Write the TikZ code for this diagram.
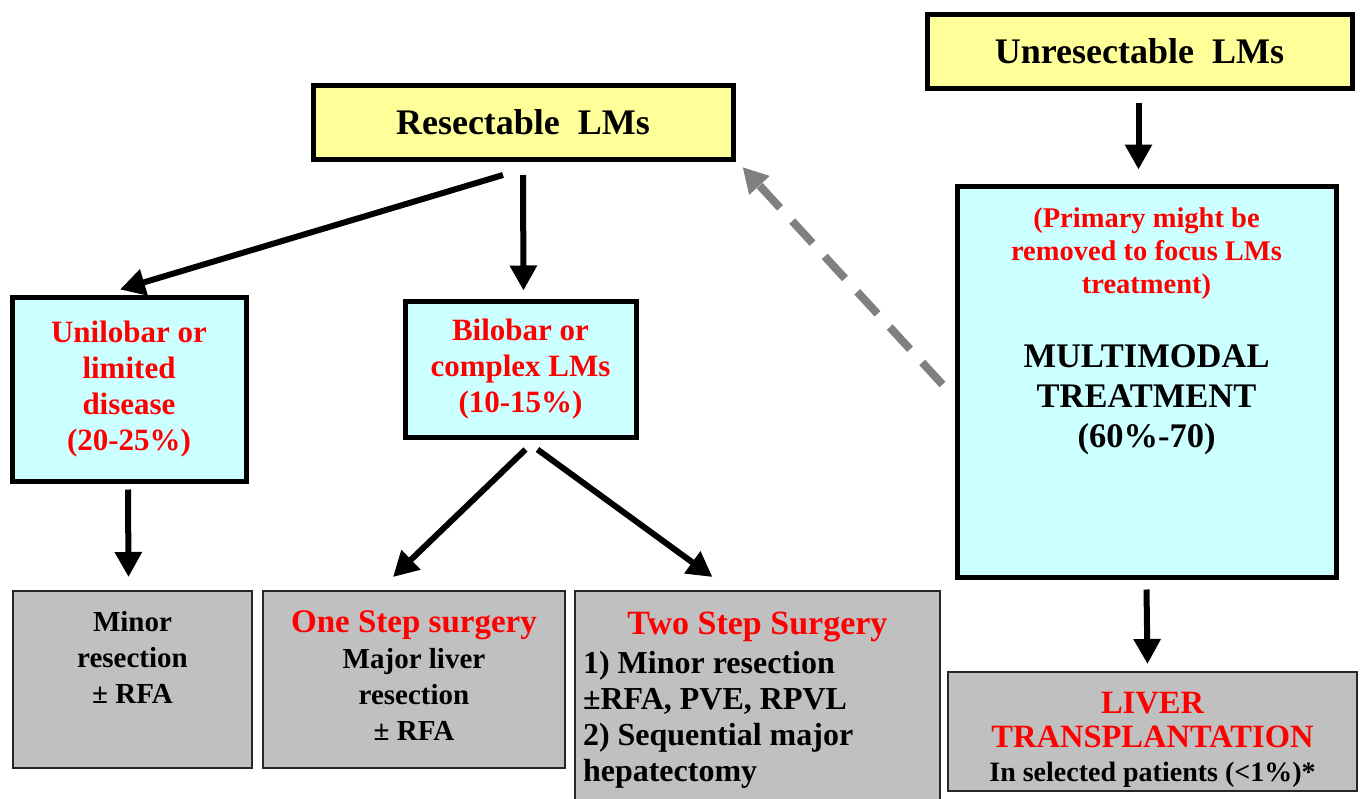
\documentclass[tikz,border=0pt]{standalone}
\usepackage{fontspec}
\setmainfont{Liberation Serif}
\usetikzlibrary{arrows.meta}
\definecolor{hdryellow}{HTML}{FFFF99}
\definecolor{lightcyan}{HTML}{CCFFFF}
\definecolor{boxgray}{HTML}{C0C0C0}
\tikzstyle{hb}=[shape=rectangle,
                draw=black,
                fill=hdryellow,
                line width=5pt,
                minimum height=74pt,
                font=\bfseries\fontsize{36}{40}\selectfont]
\tikzstyle{cb}=[shape=rectangle,
                draw=black,
                fill=lightcyan,
                line width=5pt,
                align=center,
                text=red,
                font=\bfseries\fontsize{31}{36}\selectfont]
\tikzstyle{gb}=[shape=rectangle,
                draw=black!85,
                fill=boxgray,
                line width=2pt,
                inner sep=0pt,
                font=\bfseries\fontsize{29}{36}\selectfont]
\tikzstyle{fl}=[->, line width=6pt]
\tikzstyle{back}=[->, gray, line width=8pt, dash pattern=on 30pt off 18pt]

\begin{document}
\begin{tikzpicture}[>={Triangle[length=25pt,width=26pt]},x=1pt,y=-1pt]
\useasboundingbox (0,0) rectangle (1362,798);
\clip (0,0) rectangle (1362,798);

% header boxes
\node[hb, minimum width=420pt] (res) at (523,122.5) {Resectable\ \ LMs};
\node[hb, minimum width=425pt] (unres) at (1139.5,51) {Unresectable\ \ LMs};

% resectable branches
\node[cb, minimum width=234pt, minimum height=184pt] (uni) at (129,389) {Unilobar or\\limited\\disease\\(20-25\%)};
\node[cb, minimum width=231pt, minimum height=136pt] (bil) at (520.5,369) {Bilobar or\\complex LMs\\(10-15\%)};

% unresectable branch
\node[cb, inner sep=0pt, text=black] (multi) at (1146.5,381.5) {\parbox[t][391pt][t]{379pt}{\centering\vspace*{22pt}{\color{red}\fontsize{28.5}{33}\selectfont (Primary might be\\removed to focus LMs\\treatment)\par}\vspace{34pt}\fontsize{34.5}{40}\selectfont MULTIMODAL\\TREATMENT\\(60\%-70)\par}};

% surgery boxes
\node[gb] (minor) at (132.5,679.5) {\parbox[t][177pt][t]{239pt}{\centering\vspace*{20pt}Minor\\resection\\± RFA\par}};
\node[gb] (one) at (414,679.5) {\parbox[t][177pt][t]{302pt}{\centering\vspace*{20pt}{\color{red}\fontsize{33}{36}\selectfont One Step surgery\par}Major liver\\resection\\± RFA\par}};
\node[gb] (two) at (757.5,706) {\parbox[t][230pt][t]{365pt}{\centering\vspace*{21pt}{\color{red}\fontsize{34}{36}\selectfont Two Step Surgery\par}\vspace{3pt}\raggedright\leftskip=8pt\fontsize{32}{36}\selectfont 1) Minor resection\\±RFA, PVE, RPVL\\2) Sequential major\\hepatectomy\par}};
\node[gb] (liver) at (1152.5,731.5) {\parbox[t][119pt][t]{409pt}{\centering\vspace*{20pt}{\color{red}\fontsize{32.5}{34}\selectfont LIVER\\TRANSPLANTATION\par}\fontsize{28}{34}\selectfont In selected patients (<1\%)*\par}};

% paths
\path[fl] ([shift={(-20,13)}]res.south) edge ([shift={(-9,-5)}]uni.north);
\path[fl] ([shift={(0,13)}]res.south) edge ([shift={(3,-8)}]bil.north);
\path[fl] ([shift={(5,10)}]bil.south) edge ([shift={(-21,-13)}]one.north);
\path[fl] ([shift={(17,10)}]bil.south) edge ([shift={(-45,-13)}]two.north);
\path[fl] ([shift={(-1,6)}]uni.south) edge ([shift={(-4,-13)}]minor.north);
\path[fl] ([shift={(-1,12)}]unres.south) edge ([shift={(-8,-14)}]multi.north);
\path[fl] ([shift={(0,10)}]multi.south) edge ([shift={(-5,-7)}]liver.north);

% path back to resectable
\path[back] ([shift={(-12,3)}]multi.west) edge ([shift={(7,5)}]res.south east);

\end{tikzpicture}
\end{document}
